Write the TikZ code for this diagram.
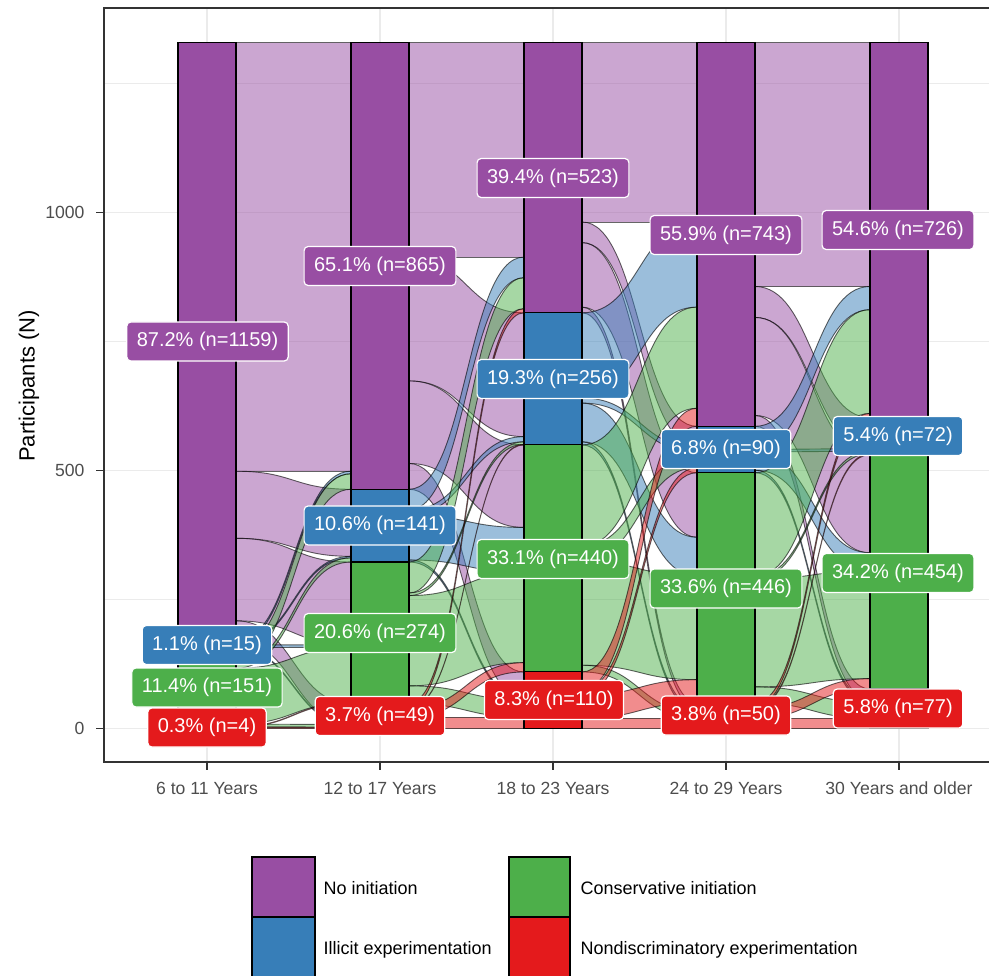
\documentclass[tikz,border=0pt]{standalone}
\usepackage{fontspec}
\setmainfont{Liberation Sans}
\definecolor{c1}{HTML}{984EA3}
\definecolor{c2}{HTML}{377EB8}
\definecolor{c3}{HTML}{4DAF4A}
\definecolor{c4}{HTML}{E41A1C}
\definecolor{gridc}{HTML}{EBEBEB}
\definecolor{axc}{HTML}{4D4D4D}
\definecolor{brd}{HTML}{333333}
\tikzset{
  flowsty/.style={fill opacity=0.5, draw=black, draw opacity=0.6, line width=0.9pt},
  stratumsty/.style={draw=black, line width=1.1pt},
  lab/.style={rounded corners=4pt, draw=white, line width=1.2pt, text=white,
    font=\fontsize{20}{24}\selectfont, inner xsep=10pt, inner ysep=0pt, minimum height=39pt},
  ticklab/.style={text=axc, font=\fontsize{17.6}{21}\selectfont},
  legtext/.style={font=\fontsize{18}{22}\selectfont, anchor=west},
  majgrid/.style={draw=gridc, line width=1.4pt},
  mingrid/.style={draw=gridc, line width=0.7pt},
  ticksty/.style={draw=brd, line width=1.3pt},
  legkey/.style={draw=black, line width=1.1pt},
}
\newcommand\initTrans[9]{%
  \pgfmathsetmacro\qtmp{#1+29}\xdef\xL{\qtmp}%
  \pgfmathsetmacro\qtmp{#1+144}\xdef\xR{\qtmp}%
  \pgfmathsetmacro\qtmp{#1+86.5}\xdef\xM{\qtmp}%
  \expandafter\xdef\csname src1\endcsname{1329}%
  \pgfmathsetmacro\qtmp{1329-#2}\expandafter\xdef\csname src2\endcsname{\qtmp}%
  \pgfmathsetmacro\qtmp{1329-#2-#3}\expandafter\xdef\csname src3\endcsname{\qtmp}%
  \pgfmathsetmacro\qtmp{1329-#2-#3-#4}\expandafter\xdef\csname src4\endcsname{\qtmp}%
  \expandafter\xdef\csname dst1\endcsname{1329}%
  \pgfmathsetmacro\qtmp{1329-#6}\expandafter\xdef\csname dst2\endcsname{\qtmp}%
  \pgfmathsetmacro\qtmp{1329-#6-#7}\expandafter\xdef\csname dst3\endcsname{\qtmp}%
  \pgfmathsetmacro\qtmp{1329-#6-#7-#8}\expandafter\xdef\csname dst4\endcsname{\qtmp}%
}
\newcommand\fl[3]{%
  \pgfmathsetmacro\qa{\csname src#1\endcsname}%
  \pgfmathsetmacro\qb{\qa-#3}%
  \expandafter\xdef\csname src#1\endcsname{\qb}%
  \pgfmathsetmacro\qc{\csname dst#2\endcsname}%
  \pgfmathsetmacro\qd{\qc-#3}%
  \expandafter\xdef\csname dst#2\endcsname{\qd}%
  \pgfmathsetmacro\yA{728.7-0.516*\qa}%
  \pgfmathsetmacro\yB{728.7-0.516*\qb}%
  \pgfmathsetmacro\yC{728.7-0.516*\qc}%
  \pgfmathsetmacro\yD{728.7-0.516*\qd}%
  \filldraw[flowsty, fill=c#1] (\xL,\yA) .. controls (\xM,\yA) and (\xM,\yC) .. (\xR,\yC)
     -- (\xR,\yD) .. controls (\xM,\yD) and (\xM,\yB) .. (\xL,\yB) -- cycle;
}
\newcommand\strat[4]{%
  \pgfmathsetmacro\ya{728.7-0.516*(#2)}%
  \pgfmathsetmacro\yb{728.7-0.516*(#3)}%
  \filldraw[stratumsty, fill=#4] (#1-29,\ya) rectangle (#1+29,\yb);
}
\begin{document}
\begin{tikzpicture}[x=1pt, y=-1pt]
\useasboundingbox (0,0) rectangle (989,976);
% grid
\foreach \v in {250,750,1250} {\draw[mingrid] (104,{728.7-0.516*\v}) -- (995,{728.7-0.516*\v});}
\foreach \v in {0,500,1000} {\draw[majgrid] (104,{728.7-0.516*\v}) -- (995,{728.7-0.516*\v});}
\foreach \c in {207,380,553,726,899} {\draw[majgrid] (\c,8) -- (\c,762);}
% transition 1
\initTrans{207}{1159}{15}{151}{4}{865}{141}{274}{49}
\fl11{830}\fl12{130}\fl13{160}\fl14{39}
\fl21{5}\fl22{3}\fl23{5}\fl24{2}
\fl31{30}\fl32{8}\fl33{108}\fl34{5}
\fl43{1}\fl44{3}
% transition 2
\initTrans{380}{865}{141}{274}{49}{523}{256}{440}{110}
\fl11{415}\fl12{240}\fl13{160}\fl14{50}
\fl21{40}\fl22{10}\fl23{87}\fl24{4}
\fl31{60}\fl32{5}\fl33{175}\fl34{34}
\fl41{8}\fl42{1}\fl43{18}\fl44{22}
% transition 3
\initTrans{553}{523}{256}{440}{110}{743}{90}{446}{50}
\fl11{347}\fl12{40}\fl13{125}\fl14{11}
\fl21{165}\fl22{10}\fl23{75}\fl24{6}
\fl31{196}\fl32{30}\fl33{201}\fl34{13}
\fl41{35}\fl42{10}\fl43{45}\fl44{20}
% transition 4
\initTrans{726}{743}{90}{446}{50}{726}{72}{454}{77}
\fl11{472}\fl12{60}\fl13{190}\fl14{21}
\fl21{45}\fl22{5}\fl23{35}\fl24{5}
\fl31{201}\fl32{5}\fl33{209}\fl34{31}
\fl41{8}\fl42{2}\fl43{20}\fl44{20}
% strata
\strat{207}{170}{1329}{c1}\strat{207}{155}{170}{c2}\strat{207}{4}{155}{c3}\strat{207}{0}{4}{c4}
\strat{380}{464}{1329}{c1}\strat{380}{323}{464}{c2}\strat{380}{49}{323}{c3}\strat{380}{0}{49}{c4}
\strat{553}{806}{1329}{c1}\strat{553}{550}{806}{c2}\strat{553}{110}{550}{c3}\strat{553}{0}{110}{c4}
\strat{726}{586}{1329}{c1}\strat{726}{496}{586}{c2}\strat{726}{50}{496}{c3}\strat{726}{0}{50}{c4}
\strat{899}{603}{1329}{c1}\strat{899}{531}{603}{c2}\strat{899}{77}{531}{c3}\strat{899}{0}{77}{c4}
% panel border and ticks
\draw[draw=brd, line width=1.3pt] (104,8) rectangle (1000,762);
\foreach \v/\t in {0/0,500/500,1000/1000} {
  \draw[ticksty] (96,{728.7-0.516*\v}) -- (104,{728.7-0.516*\v});
  \node[ticklab, anchor=east] (yt\v) at (88,{728.7-0.516*\v}) {\t};
}
\foreach \c/\t [count=\i] in {207/6 to 11 Years,380/12 to 17 Years,553/18 to 23 Years,726/24 to 29 Years,899/30 Years and older} {
  \draw[ticksty] (\c,762) -- (\c,770);
  \node[ticklab] (xt\i) at (\c,788) {\t};
}
\node[rotate=90, font=\fontsize{22}{26}\selectfont] (ytitle) at (29,386) {Participants (N)};
% labels
\node[lab, fill=c1] (l1) at (207.5,341.5) {87.2\% (n=1159)};
\node[lab, fill=c1] (l2) at (380,266) {65.1\% (n=865)};
\node[lab, fill=c1] (l3) at (553,178) {39.4\% (n=523)};
\node[lab, fill=c1] (l4) at (726,235) {55.9\% (n=743)};
\node[lab, fill=c1] (l5) at (898,230) {54.6\% (n=726)};
\node[lab, fill=c2] (l6) at (553,379) {19.3\% (n=256)};
\node[lab, fill=c2] (l7) at (380,525.5) {10.6\% (n=141)};
\node[lab, fill=c2] (l8) at (207,645) {1.1\% (n=15)};
\node[lab, fill=c2] (l9) at (726,449) {6.8\% (n=90)};
\node[lab, fill=c2] (l10) at (898,436) {5.4\% (n=72)};
\node[lab, fill=c3] (l11) at (207,687.5) {11.4\% (n=151)};
\node[lab, fill=c3] (l12) at (380,633) {20.6\% (n=274)};
\node[lab, fill=c3] (l13) at (553,559) {33.1\% (n=440)};
\node[lab, fill=c3] (l14) at (726,588.5) {33.6\% (n=446)};
\node[lab, fill=c3] (l15) at (898,573) {34.2\% (n=454)};
\node[lab, fill=c4] (l16) at (207,727.5) {0.3\% (n=4)};
\node[lab, fill=c4] (l17) at (380,716) {3.7\% (n=49)};
\node[lab, fill=c4] (l18) at (554,700) {8.3\% (n=110)};
\node[lab, fill=c4] (l19) at (726,715.5) {3.8\% (n=50)};
\node[lab, fill=c4] (l20) at (898,708.5) {5.8\% (n=77)};
% legend
\filldraw[legkey, fill=c1] (252,857) rectangle (315,917);
\filldraw[legkey, fill=c2] (252,917) rectangle (315,985);
\filldraw[legkey, fill=c3] (509,857) rectangle (570,917);
\filldraw[legkey, fill=c4] (509,917) rectangle (570,985);
\node[legtext] (k1) at (320,888) {No initiation};
\node[legtext] (k2) at (320,950) {Illicit experimentation};
\node[legtext] (k3) at (577,888) {Conservative initiation};
\node[legtext] (k4) at (577,950) {Nondiscriminatory experimentation};
\end{tikzpicture}
\end{document}
